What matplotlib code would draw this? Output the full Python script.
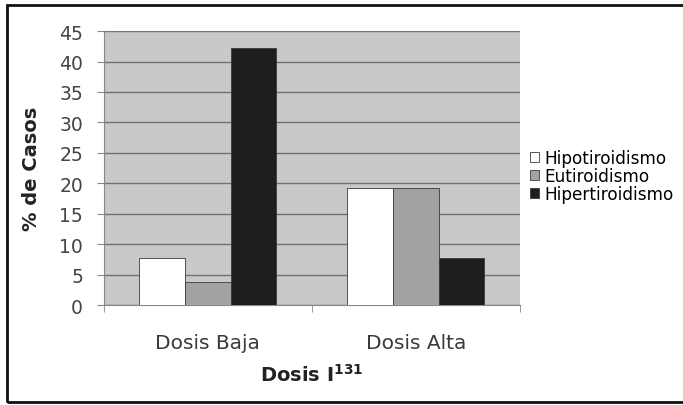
import matplotlib.pyplot as plt
import matplotlib.patches as mpatches
import numpy as np

plt.rcParams['font.family'] = ['DejaVu Sans']

categorias = ['Dosis Baja', 'Dosis Alta']
series = ['Hipotiroidismo', 'Eutiroidismo', 'Hipertiroidismo']
hipo = [7.7, 19.2]
euti = [3.8, 19.2]
hiper = [42.3, 7.7]
colores = ['#ffffff', '#a2a2a2', '#1e1e1e']

fig = plt.figure(figsize=(6.83, 4.06), dpi=100)
ax = fig.add_axes([0.152, 0.246, 0.609, 0.675])
ax.set_facecolor('#c9c9c9')

x = np.arange(len(categorias))
w = 0.22
for i, (vals, nombre) in enumerate(zip([hipo, euti, hiper], series)):
    ax.bar(x + (i - 1) * w, vals, w, color=colores[i], edgecolor='#3a3a3a',
           linewidth=0.6, label=nombre, zorder=3)

ax.set_xlim(-0.5, 1.5)
ax.set_ylim(0, 45)
ax.set_yticks(np.arange(0, 46, 5))
ax.yaxis.grid(True, color='#727272', linewidth=1.0, zorder=0)
ax.set_axisbelow(True)

ax.set_xticks(x)
ax.set_xticklabels(categorias, fontsize=14.5, color='#3a3a3a')
ax.set_xticks([-0.5, 0.5, 1.5], minor=True)
ax.tick_params(axis='x', which='major', length=0, pad=20)
ax.tick_params(axis='x', which='minor', length=5, color='#888888')
ax.tick_params(axis='y', length=5, color='#888888', labelsize=13.5, labelcolor='#444444', pad=10)

for s in ['top', 'right']:
    ax.spines[s].set_visible(False)
ax.spines['left'].set_color('#888888')
ax.spines['bottom'].set_color('#888888')

ax.set_ylabel('% de Casos', fontsize=14, fontweight='bold', color='#222222', labelpad=13)
ax.set_xlabel('Dosis I$^{\\mathbf{131}}$', fontsize=14, fontweight='bold', color='#222222', labelpad=8)

ax.legend(loc='center left', bbox_to_anchor=(1.0, 0.47), frameon=False, fontsize=12.2,
          handlelength=0.55, handleheight=0.55, handletextpad=0.3, labelspacing=0.0,
          borderaxespad=0.2)

fig.patches.append(mpatches.Rectangle((7 / 683, 3 / 406), 1.0, 397 / 406, transform=fig.transFigure,
                                      fill=False, edgecolor='#111111', linewidth=2))

fig.savefig('out.png', dpi=100)
